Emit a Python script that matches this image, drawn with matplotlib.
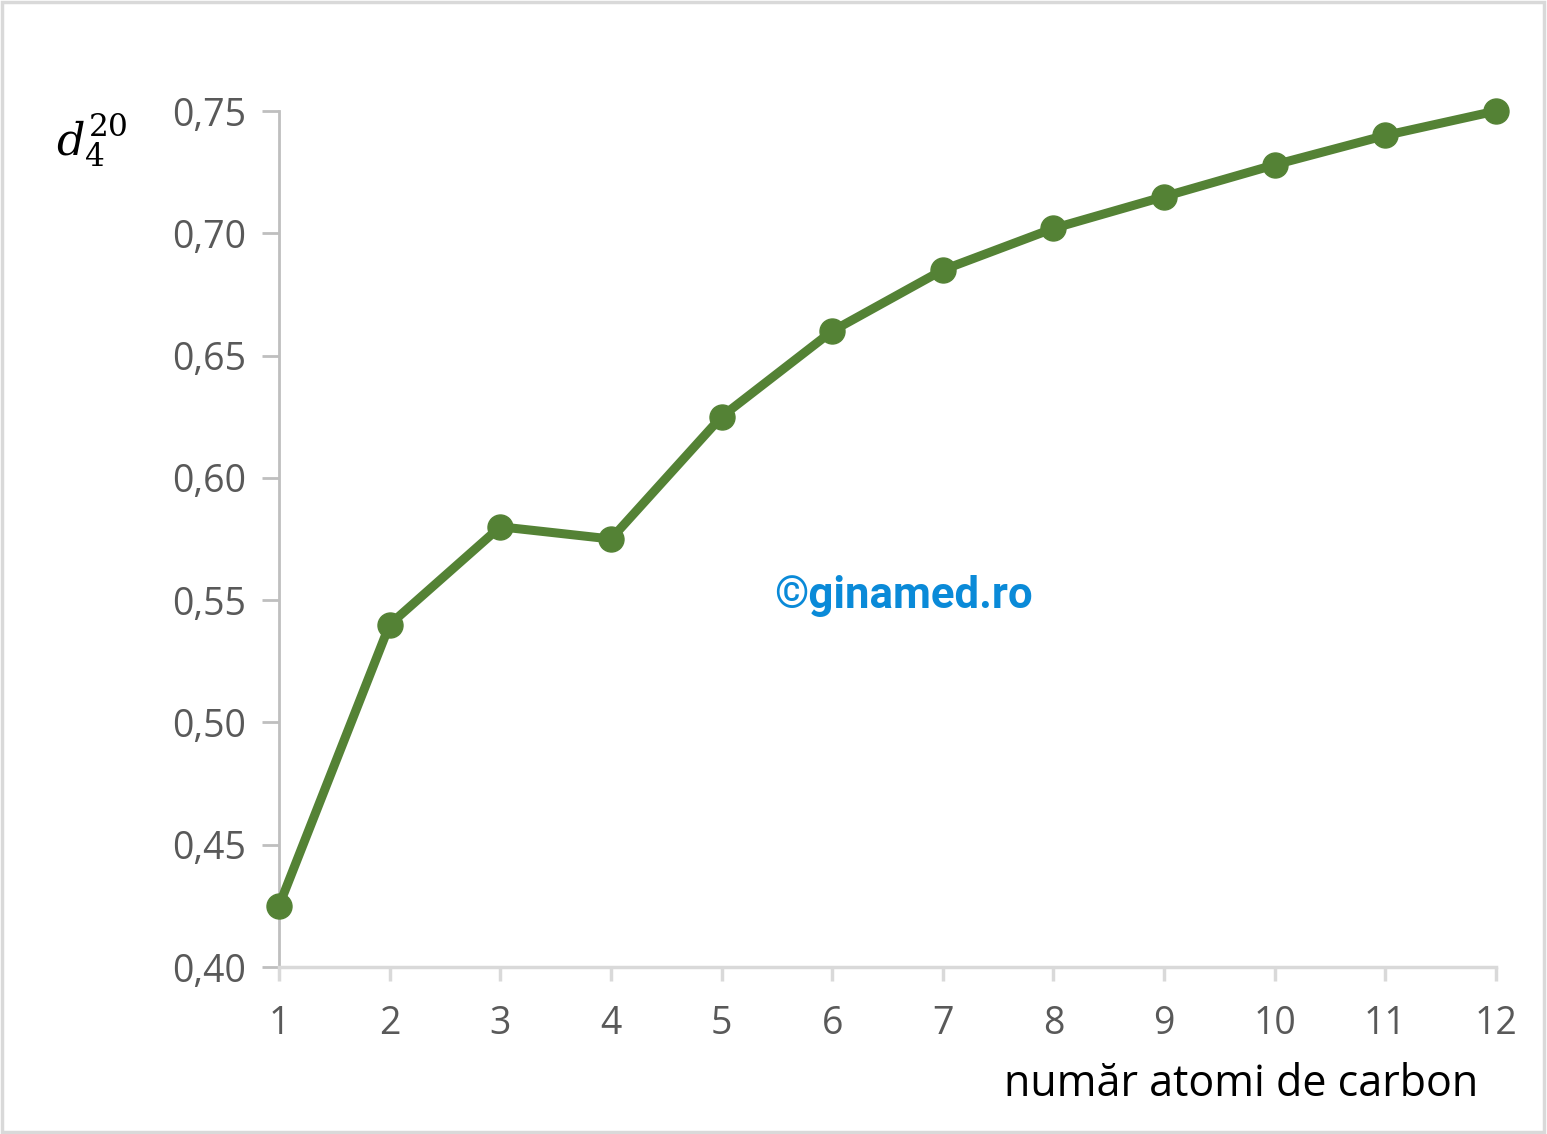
import matplotlib
matplotlib.use("Agg")
import matplotlib.pyplot as plt
from matplotlib.ticker import FuncFormatter, MultipleLocator
from matplotlib.patches import Rectangle

carbon_atoms = [1, 2, 3, 4, 5, 6, 7, 8, 9, 10, 11, 12]
density = [0.425, 0.540, 0.580, 0.575, 0.625, 0.660, 0.685, 0.702, 0.715, 0.728, 0.740, 0.750]
x_label = "număr atomi de carbon"
y_label = r"$d_4^{20}$"
watermark = "©ginamed.ro"

W, H = 1547, 1134
fig = plt.figure(figsize=(W/100, H/100), dpi=100)
fig.patch.set_facecolor("white")
fig.patches.append(Rectangle((0.001, 0.002), 0.997, 0.996, transform=fig.transFigure,
                             fill=False, edgecolor="#D9D9D9", linewidth=2.5))

ax = fig.add_axes([279/W, 1-967/H, (1496-279)/W, (967-111)/H])
ax.plot(carbon_atoms, density, color="#548235", linewidth=6.5, marker="o",
        markersize=18, clip_on=False, zorder=3)
ax.set_xlim(1, 12)
ax.set_ylim(0.40, 0.75)
ax.xaxis.set_major_locator(MultipleLocator(1))
ax.yaxis.set_major_locator(MultipleLocator(0.05))
ax.yaxis.set_major_formatter(FuncFormatter(lambda v, p: f"{v:.2f}".replace(".", ",")))

for s in ["top", "right"]:
    ax.spines[s].set_visible(False)
ax.spines["left"].set_color("#BFBFBF")
ax.spines["left"].set_linewidth(2)
ax.spines["bottom"].set_color("#D9D9D9")
ax.spines["bottom"].set_linewidth(2.5)
ax.tick_params(axis="y", direction="out", length=12, width=2, color="#BFBFBF",
               labelsize=27, labelcolor="#595959", pad=12)
ax.tick_params(axis="x", direction="out", length=10, width=2.5, color="#D9D9D9",
               labelsize=27, labelcolor="#595959", pad=17)
for lab in ax.get_xticklabels() + ax.get_yticklabels():
    lab.set_fontfamily("Open Sans")

fig.text(1478/W, 1-1085/H, x_label, ha="right", va="center", fontsize=31,
         color="black", fontfamily="Open Sans")
plt.rcParams["mathtext.fontset"] = "dejavuserif"
fig.text(92/W, 1-140/H, y_label, ha="center", va="center", fontsize=32, color="black")
fig.text(903/W, 1-596/H, watermark, ha="center", va="center", fontsize=31.5,
         color="#0A8AD8", fontweight="bold", fontfamily="Roboto")

fig.savefig("out.png", dpi=100)
